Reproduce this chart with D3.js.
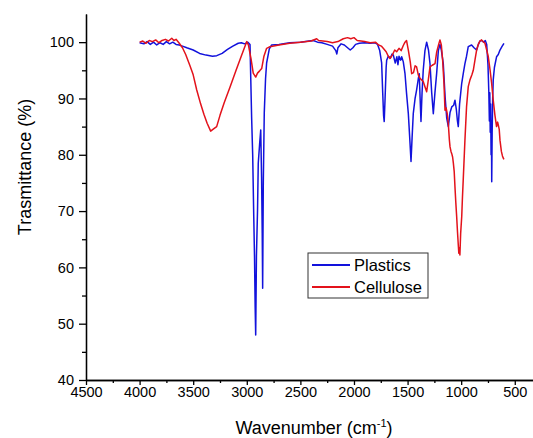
<!DOCTYPE html>
<html lang="en">
<head>
  <meta charset="UTF-8" />
  <title>FTIR spectra</title>
  <script src="https://d3js.org/d3.v7.min.js"></script>
  <style>
    html, body { margin: 0; padding: 0; background: #fff; }
    svg { display: block; font-family: "Liberation Sans", Arial, sans-serif; }
    .axis path, .axis line { stroke: #000; stroke-width: 1.3px; }
    .axis text { font-size: 14.5px; fill: #000; }
    .line { fill: none; stroke-width: 1.5px; stroke-linejoin: round; }
  </style>
</head>
<body>
<div id="chart"></div>
<script>
// [wavenumber cm-1, transmittance %]
const plastics = [
  [4000, 99.9], [3960, 99.7], [3930, 100.1], [3900, 99.6], [3870, 100.0], [3840, 99.5], [3810, 99.9],
  [3780, 99.6], [3750, 100.1], [3720, 99.7], [3690, 100.0], [3660, 99.6], [3630, 99.5], [3600, 99.3],
  [3560, 99.0], [3500, 98.6], [3440, 98.0], [3380, 97.7], [3320, 97.5], [3280, 97.6], [3230, 98.0],
  [3180, 98.7], [3130, 99.3], [3080, 99.8], [3050, 99.9], [3020, 99.7], [2990, 100.0], [2970, 99.6],
  [2955, 86.7], [2945, 80], [2935, 69], [2928, 62], [2922, 53], [2917, 48], [2910, 62], [2900, 70],
  [2893, 78.5], [2880, 82], [2870, 84.4], [2862, 76], [2856, 66], [2852, 56.3], [2846, 75], [2837, 87.4],
  [2825, 93.5], [2815, 96.3], [2790, 98.8], [2768, 99.5], [2700, 99.6], [2600, 99.9], [2500, 100.0],
  [2420, 100.2], [2380, 100.3], [2340, 100.0], [2300, 99.9], [2250, 99.6], [2200, 99.3], [2170, 98.5],
  [2160, 97.9], [2150, 99.0], [2120, 99.7], [2090, 99.5], [2060, 99.0], [2035, 98.6], [2010, 99.0],
  [1985, 99.6], [1950, 99.8], [1900, 99.9], [1850, 99.8], [1806, 99.9], [1780, 99.6], [1760, 98.5],
  [1742, 96.3], [1732, 91], [1724, 87], [1718, 85.9], [1710, 90], [1700, 95.5], [1695, 96.8], [1680, 97.5],
  [1660, 97.2], [1645, 97.9], [1633, 97.7], [1615, 96.3], [1600, 97.4], [1590, 96.0], [1580, 97.5],
  [1565, 96.8], [1555, 97.4], [1540, 96.5], [1524, 94.4], [1510, 91], [1493, 87.3], [1480, 83],
  [1468, 78.8], [1458, 83], [1447, 87.3], [1430, 90], [1416, 91.5], [1400, 93.5], [1391, 94.4],
  [1383, 90], [1375, 85.9], [1365, 91], [1354, 95], [1338, 98.5], [1322, 100], [1305, 98.6], [1291, 96.2],
  [1275, 91], [1260, 87.3], [1245, 91], [1229, 94.4], [1213, 98.5], [1198, 99.6], [1185, 98.6],
  [1167, 96.2], [1150, 90.3], [1135, 86.5], [1120, 85], [1104, 87.5], [1088, 88.5], [1070, 88.8],
  [1058, 89.7], [1045, 88], [1035, 86], [1027, 85], [1015, 89], [995, 92.7], [980, 94.5], [965, 96.2],
  [950, 97.5], [934, 99.2], [903, 99.5], [880, 99.0], [856, 98.6], [840, 99.6], [825, 100.2], [809, 100.3],
  [790, 100.0], [775, 100.3], [762, 99.6], [750, 96], [742, 91], [737, 86], [733, 91], [729, 84],
  [725, 89], [721, 80], [718, 86], [715, 75.2], [711, 84], [706, 90], [701, 93.3], [690, 95.5],
  [670, 97.4], [654, 97.8], [638, 98.6], [620, 99.2], [601, 99.8]
];

const cellulose = [
  [4000, 100.0], [3970, 100.2], [3940, 99.8], [3910, 100.3], [3880, 100.1], [3850, 100.4], [3820, 99.9],
  [3790, 100.3], [3760, 100.5], [3730, 100.2], [3700, 100.7], [3680, 100.3], [3660, 100.5], [3630, 99.8],
  [3600, 99.0], [3570, 97.8], [3530, 95.8], [3500, 94.2], [3467, 91.5], [3430, 89.0], [3400, 87.2],
  [3370, 85.6], [3337, 84.2], [3310, 84.6], [3281, 85.0], [3250, 87.0], [3210, 89.3], [3157, 92.0],
  [3100, 95.0], [3050, 97.6], [3000, 100.1], [2985, 99.5], [2960, 97.0], [2940, 94.5], [2917, 93.8],
  [2900, 94.5], [2880, 94.9], [2861, 95.3], [2840, 97.5], [2815, 98.9], [2784, 99.2], [2700, 99.5],
  [2600, 99.8], [2500, 100.0], [2400, 100.2], [2348, 100.6], [2330, 100.3], [2250, 100.1], [2200, 99.9],
  [2150, 100.1], [2100, 100.6], [2060, 100.8], [2030, 100.6], [2000, 100.8], [1970, 100.3], [1900, 100.1],
  [1850, 99.9], [1800, 100.0], [1770, 99.5], [1745, 99.3], [1727, 98.9], [1700, 98.3], [1680, 97.5],
  [1664, 97.1], [1640, 97.8], [1620, 98.6], [1602, 98.3], [1580, 98.9], [1560, 98.5], [1540, 99.4],
  [1524, 100.0], [1510, 100.3], [1493, 98.6], [1475, 96.5], [1462, 94.4], [1445, 94.6], [1430, 95.8],
  [1416, 95.6], [1400, 94.2], [1385, 93.6], [1369, 93.3], [1354, 93.0], [1338, 92.1], [1322, 91.2],
  [1310, 92.8], [1291, 95.6], [1270, 95.9], [1244, 96.2], [1229, 98.2], [1210, 99.6], [1198, 100.4],
  [1185, 99.5], [1173, 96.8], [1160, 92.5], [1151, 87.9], [1140, 88.3], [1130, 87.3], [1120, 85.5],
  [1110, 82.6], [1104, 81.4], [1095, 80.6], [1088, 80.2], [1080, 79.6], [1073, 78.5], [1065, 77],
  [1058, 74.3], [1050, 71.5], [1042, 69], [1035, 66.5], [1027, 64], [1022, 62.5], [1018, 63.5],
  [1012, 62.2], [1005, 66], [995, 69], [988, 72.5], [981, 75.5], [965, 82.6], [950, 88.5], [934, 92.1],
  [918, 93.3], [900, 94.2], [887, 95], [870, 97], [856, 98.6], [840, 99.6], [825, 100.2], [810, 100.4],
  [795, 100.1], [778, 99.8], [762, 98.6], [747, 97.4], [730, 95], [716, 92.7], [701, 89.7], [685, 87],
  [670, 85], [660, 85.8], [654, 85.3], [645, 84.5], [638, 82.6], [625, 80.6], [615, 79.8], [607, 79.4],
  [601, 79.2]
];

const seriesNames = ["Plastics", "Cellulose"];
const seriesColors = ["#1212dc", "#e3121b"];
const xMajor = [4500, 4000, 3500, 3000, 2500, 2000, 1500, 1000, 500];
const xMinor = [4250, 3750, 3250, 2750, 2250, 1750, 1250, 750];
const yMajor = [40, 50, 60, 70, 80, 90, 100];
const yMinor = [45, 55, 65, 75, 85, 95];

const W = 533, H = 438;
const plotL = 86, plotT = 14, plotR = 533, plotB = 380;

const svg = d3.select("#chart").append("svg")
  .attr("width", W).attr("height", H);

const x = d3.scaleLinear().domain([4500, 330]).range([plotL, plotR]);
const y = d3.scaleLinear().domain([40, 105]).range([plotB, plotT]);

// minor ticks first, then major axes
svg.append("g").attr("class", "axis")
  .attr("transform", `translate(0,${plotB})`)
  .call(d3.axisBottom(x).tickValues(xMinor).tickSize(3).tickFormat("").tickSizeOuter(0));
svg.append("g").attr("class", "axis")
  .attr("transform", `translate(${plotL},0)`)
  .call(d3.axisLeft(y).tickValues(yMinor).tickSize(4).tickFormat("").tickSizeOuter(0));

svg.append("g").attr("class", "axis")
  .attr("transform", `translate(0,${plotB})`)
  .call(d3.axisBottom(x).tickValues(xMajor).tickFormat(d3.format("d"))
    .tickSize(5).tickPadding(2).tickSizeOuter(0));
svg.append("g").attr("class", "axis")
  .attr("transform", `translate(${plotL},0)`)
  .call(d3.axisLeft(y).tickValues(yMajor).tickFormat(d3.format("d"))
    .tickSize(7).tickPadding(5).tickSizeOuter(0));

const line = d3.line().x(d => x(d[0])).y(d => y(d[1]));

[plastics, cellulose].forEach((data, i) => {
  svg.append("path")
    .datum(data)
    .attr("class", "line")
    .attr("stroke", seriesColors[i])
    .attr("d", line);
});

// axis titles
const xt = svg.append("text")
  .attr("x", 314).attr("y", 434)
  .attr("text-anchor", "middle")
  .style("font-size", "18px");
xt.append("tspan").text("Wavenumber (cm");
xt.append("tspan").attr("dy", -7).style("font-size", "11px").text("-1");
xt.append("tspan").attr("dy", 7).text(")");

svg.append("text")
  .attr("transform", "translate(31,167) rotate(-90)")
  .attr("text-anchor", "middle")
  .style("font-size", "18px")
  .text("Trasmittance (%)");

// legend
const lg = svg.append("g").attr("transform", "translate(308,253)");
lg.append("rect")
  .attr("width", 120).attr("height", 45)
  .attr("fill", "#fff").attr("stroke", "#333").attr("stroke-width", 1);
seriesNames.forEach((name, i) => {
  const yy = 12 + i * 22;
  lg.append("line")
    .attr("x1", 4).attr("x2", 42).attr("y1", yy).attr("y2", yy)
    .attr("stroke", seriesColors[i]).attr("stroke-width", 2);
  lg.append("text")
    .attr("x", 46).attr("y", yy + 6)
    .style("font-size", "16.5px")
    .text(name);
});
</script>
</body>
</html>
